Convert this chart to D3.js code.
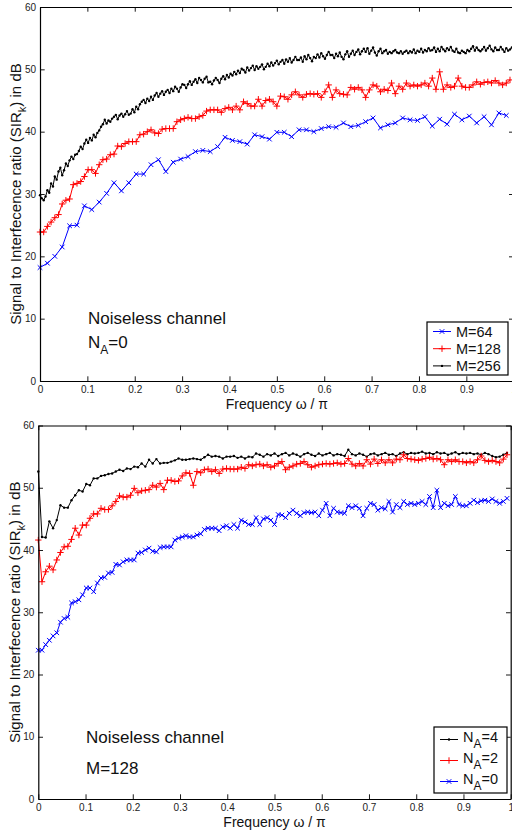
<!DOCTYPE html>
<html>
<head>
<meta charset="utf-8">
<script src="https://cdn.jsdelivr.net/npm/d3@7"></script>
<style>
  body { margin: 0; background: #fff; }
  text { font-family: "Liberation Sans", Arial, sans-serif; }
</style>
</head>
<body>
<div id="chart-area"></div>
<script>
// tick labels
var freqTicks = [0, 0.1, 0.2, 0.3, 0.4, 0.5, 0.6, 0.7, 0.8, 0.9, 1];
var sirTicks = [0, 10, 20, 30, 40, 50, 60];

// top panel: N_A = 0, block size M
var sirM64 = [
  18.2, 18.9, 20.0, 21.5, 24.9, 25.0, 28.1, 27.5, 28.7, 30.1, 31.8, 30.5, 31.8, 33.2, 33.2, 34.7,
  35.5, 33.6, 35.1, 35.6, 36.0, 36.8, 37.0, 36.8, 37.6, 39.1, 38.6, 38.4, 38.0, 39.5, 39.2, 38.8,
  39.9, 39.9, 39.2, 40.3, 40.3, 40.0, 40.5, 40.8, 40.7, 41.4, 40.8, 41.0, 41.6, 42.2, 40.6, 41.1,
  41.4, 42.2, 41.9, 41.8, 42.4, 40.9, 42.0, 41.2, 42.8, 41.9, 42.5, 41.4, 42.4, 41.1, 43.0, 42.6
];

// M = 128, N_A = 0 (same curve appears in both panels)
var sirM128 = [
  23.9, 23.9, 24.8, 25.5, 26.2, 26.7, 28.4, 29.0, 29.2, 31.5, 31.7, 32.0, 32.8, 33.9, 33.9, 33.3,
  34.7, 35.5, 35.6, 36.3, 36.4, 37.7, 37.6, 38.1, 38.4, 38.4, 38.4, 39.5, 39.6, 40.0, 40.3, 39.8,
  39.7, 40.4, 40.5, 40.5, 40.5, 41.6, 41.9, 42.1, 42.3, 42.1, 42.1, 42.4, 42.6, 43.3, 43.5, 43.5,
  43.5, 43.1, 43.7, 43.9, 43.5, 44.1, 43.5, 44.8, 44.5, 44.1, 44.1, 45.2, 44.1, 45.0, 45.2, 44.8,
  44.1, 45.7, 45.6, 45.2, 45.9, 46.4, 45.9, 45.5, 46.0, 46.1, 46.0, 46.1, 45.5, 46.4, 47.5, 45.5,
  46.7, 46.1, 46.0, 45.9, 47.1, 46.8, 47.1, 46.7, 45.5, 46.7, 47.5, 47.3, 46.4, 46.8, 46.6, 47.8,
  46.1, 47.3, 46.8, 47.8, 47.3, 47.5, 47.3, 47.5, 47.8, 47.3, 48.6, 46.8, 49.6, 46.8, 47.5, 47.1,
  47.3, 48.6, 47.3, 47.1, 47.1, 47.5, 48.0, 47.6, 47.9, 48.0, 47.8, 48.2, 47.8, 47.5, 47.8, 48.3
];

var sirM256 = [
  29.8, 29.3, 29.0, 29.6, 30.6, 30.2, 31.7, 31.2, 32.8, 32.3, 33.6, 34.2, 33.0, 33.8, 34.9, 34.5,
  35.4, 36.0, 35.6, 36.3, 36.4, 36.9, 37.6, 37.2, 38.1, 38.7, 38.2, 39.0, 38.6, 39.5, 39.1, 39.8,
  40.2, 40.8, 41.2, 41.9, 41.3, 41.8, 41.6, 42.1, 42.4, 42.7, 42.0, 42.6, 42.9, 42.4, 42.8, 43.3,
  42.7, 42.9, 43.6, 43.1, 44.0, 43.6, 44.4, 44.8, 45.1, 44.6, 45.3, 44.9, 45.6, 45.1, 45.8, 46.2,
  45.6, 46.1, 46.5, 45.9, 46.4, 46.7, 46.2, 46.9, 46.5, 47.2, 46.9, 46.4, 47.1, 47.6, 47.5, 47.0,
  47.6, 48.1, 47.5, 48.0, 48.4, 47.8, 48.6, 48.3, 47.9, 48.5, 48.8, 47.9, 48.0, 47.6, 48.2, 48.6,
  48.3, 47.8, 48.5, 48.9, 48.4, 49.1, 48.7, 49.3, 49.0, 49.6, 49.2, 49.8, 49.4, 50.1, 49.9, 49.5,
  50.3, 49.8, 50.2, 50.6, 49.9, 50.5, 50.1, 50.4, 50.8, 50.0, 50.4, 50.9, 50.5, 51.1, 50.6, 51.0,
  51.4, 50.8, 51.2, 51.5, 50.9, 51.6, 51.2, 51.8, 51.1, 51.5, 52.0, 51.5, 51.5, 51.9, 51.2, 52.1,
  51.6, 52.3, 51.8, 51.3, 52.0, 51.8, 52.4, 51.9, 52.6, 52.1, 51.7, 52.3, 52.8, 52.3, 52.3, 51.8,
  52.5, 52.1, 52.7, 52.0, 51.6, 52.4, 52.9, 52.0, 52.5, 53.0, 52.3, 52.8, 53.2, 52.4, 52.9, 53.3,
  52.8, 53.4, 52.5, 53.0, 53.5, 52.7, 52.2, 52.9, 53.3, 52.6, 52.9, 53.1, 52.5, 52.8, 52.6, 52.9,
  53.1, 52.7, 52.6, 52.9, 52.5, 52.8, 53.0, 52.6, 52.9, 52.7, 53.2, 52.6, 53.0, 52.8, 53.3, 52.7,
  53.1, 52.9, 53.4, 53.0, 53.1, 53.5, 52.8, 53.3, 52.9, 53.6, 53.2, 52.9, 53.4, 53.1, 53.6, 53.0,
  52.8, 53.3, 52.7, 52.6, 53.0, 52.8, 52.6, 53.1, 52.9, 53.3, 53.7, 53.0, 53.5, 53.1, 52.9, 53.2,
  53.6, 53.0, 53.4, 53.8, 53.2, 52.9, 53.5, 53.1, 53.1, 53.6, 53.2, 52.8, 53.4, 53.0, 53.2, 53.5
];

// bottom panel: M = 128, number of interferers N_A
var sirNA4 = [
  52.6, 42.1, 42.0, 44.6, 43.5, 44.8, 47.2, 46.8, 46.8, 48.0, 48.8, 49.6, 49.4, 50.6, 50.4, 51.5,
  51.5, 51.9, 52.0, 52.2, 52.3, 52.6, 52.9, 52.7, 53.1, 53.0, 53.4, 53.3, 53.9, 53.4, 54.5, 53.9,
  54.6, 53.9, 54.0, 54.0, 54.2, 54.4, 54.7, 54.5, 54.5, 54.6, 54.7, 54.6, 54.5, 54.9, 55.3, 55.0,
  55.1, 55.0, 54.7, 55.0, 55.0, 55.1, 54.8, 55.0, 54.7, 55.0, 54.9, 55.5, 55.3, 55.0, 55.4, 55.2,
  55.5, 55.1, 55.4, 55.6, 55.2, 55.5, 55.3, 55.0, 55.4, 55.6, 55.3, 55.1, 55.5, 55.2, 55.4, 55.6,
  55.2, 55.4, 55.3, 55.1, 56.1, 55.4, 55.2, 55.5, 55.3, 55.0, 55.4, 55.5, 55.2, 55.4, 55.6, 55.3,
  55.4, 55.1, 55.5, 55.7, 55.4, 55.6, 55.5, 55.6, 55.8, 55.5, 55.6, 55.4, 55.7, 55.5, 55.6, 55.3,
  55.5, 55.7, 55.4, 55.6, 55.5, 55.6, 55.4, 55.5, 55.3, 55.6, 55.4, 55.1, 54.9, 55.0, 55.3, 55.6
];

var sirNA2 = [
  41.6, 34.9, 36.5, 37.4, 36.8, 38.4, 39.6, 40.5, 40.6, 41.7, 43.5, 42.4, 44.0, 44.0, 45.1, 45.8,
  45.8, 46.7, 46.5, 46.5, 47.1, 47.8, 48.7, 48.5, 48.5, 48.8, 49.9, 49.2, 49.5, 49.6, 49.7, 50.4,
  50.1, 50.7, 49.7, 51.2, 51.2, 51.0, 51.1, 51.9, 52.4, 52.3, 50.4, 52.6, 52.4, 52.9, 53.0, 52.6,
  52.9, 52.3, 53.0, 53.1, 53.0, 53.0, 53.0, 53.3, 53.1, 53.7, 53.5, 53.7, 53.8, 53.5, 53.7, 53.3,
  53.5, 53.9, 54.2, 52.9, 53.3, 53.5, 53.8, 53.9, 54.2, 53.7, 53.3, 53.5, 53.7, 53.8, 53.9, 53.8,
  53.9, 54.0, 53.8, 53.9, 54.7, 53.8, 53.5, 53.9, 53.5, 54.5, 53.8, 54.6, 53.9, 54.5, 54.0, 54.5,
  54.0, 54.6, 54.5, 55.3, 54.7, 54.6, 54.5, 54.4, 54.6, 54.7, 54.9, 54.6, 54.7, 54.5, 53.7, 54.5,
  54.2, 54.5, 54.2, 54.2, 54.0, 54.2, 54.0, 54.5, 55.1, 54.4, 54.2, 54.4, 54.2, 54.0, 54.6, 55.3
];

var topLegend = ["M=64", "M=128", "M=256"];
var bottomLegend = ["4", "2", "0"];

var width = 512;
var height = 832;

var svg = d3.select("#chart-area").append("svg")
            .attr("width", width)
            .attr("height", height)
            .style("background", "#fff");

var markerPaths = {
  x: "M-2.3,-2.3L2.3,2.3M-2.3,2.3L2.3,-2.3",
  plus: "M-3.2,0H3.2M0,-3.2V3.2"
};

function drawMarker(g, type, color, px, py) {
  if (type == "dot") {
    g.append("circle")
      .attr("cx", px).attr("cy", py)
      .attr("r", 1.2)
      .attr("fill", color);
  } else {
    g.append("path")
      .attr("d", markerPaths[type])
      .attr("transform", "translate(" + px + "," + py + ")")
      .attr("fill", "none")
      .attr("stroke", color)
      .attr("stroke-width", 1);
  }
}

function drawSeries(g, x, y, values, color, type) {
  var n = values.length;
  var pts = values.map((v, i) => { return [i / n, v]; });
  var line = d3.line()
               .x((d) => { return x(d[0]); })
               .y((d) => { return y(d[1]); });
  g.append("path")
    .datum(pts)
    .attr("d", line)
    .attr("fill", "none")
    .attr("stroke", color)
    .attr("stroke-width", 1);
  pts.forEach((d) => { drawMarker(g, type, color, x(d[0]), y(d[1])); });
}

function drawPanel(p) {
  var g = svg.append("g");
  var x = d3.scaleLinear().domain([0, 1]).range([p.left, p.right]);
  var y = d3.scaleLinear().domain([0, 60]).range([p.bottom, p.top]);

  p.series.forEach((s) => { drawSeries(g, x, y, s.values, s.color, s.marker); });

  var tick = 4.7;
  var bottomAxis = d3.axisBottom(x).tickValues(freqTicks).tickSize(-tick).tickSizeOuter(0)
                     .tickPadding(5).tickFormat((d) => { return String(d); });
  var topAxis = d3.axisTop(x).tickValues(freqTicks).tickSize(-tick).tickSizeOuter(0).tickFormat("");
  var leftAxis = d3.axisLeft(y).tickValues(sirTicks).tickSize(-tick).tickSizeOuter(0).tickPadding(4);
  var rightAxis = d3.axisRight(y).tickValues(sirTicks).tickSize(-tick).tickSizeOuter(0).tickFormat("");

  var axes = [
    [bottomAxis, "translate(0," + p.bottom + ")"],
    [topAxis, "translate(0," + p.top + ")"],
    [leftAxis, "translate(" + p.left + ",0)"],
    [rightAxis, "translate(" + p.right + ",0)"]
  ];
  axes.forEach((a) => {
    var ag = g.append("g").attr("transform", a[1]).call(a[0]);
    ag.select(".domain").attr("stroke", "#000").attr("stroke-width", 1.2);
    ag.selectAll(".tick line").attr("stroke", "#000").attr("stroke-width", 0.9);
    ag.selectAll(".tick text")
      .attr("font-size", "10px")
      .attr("font-family", "Liberation Sans, Arial, sans-serif")
      .attr("fill", "#222");
  });

  // axis labels
  g.append("text")
    .attr("x", (p.left + p.right) / 2)
    .attr("y", p.bottom + 28)
    .attr("font-size", "14px")
    .attr("text-anchor", "middle")
    .attr("fill", "#111")
    .text("Frequency \u03c9 / \u03c0");

  var yLabel = g.append("text")
                .attr("transform", "translate(" + p.ylabelX + "," + ((p.top + p.bottom) / 2) + ") rotate(-90)")
                .attr("font-size", "15px")
                .attr("text-anchor", "middle")
                .attr("fill", "#111");
  yLabel.append("tspan").text("Signal to Interfecence ratio (SIR");
  yLabel.append("tspan").attr("dy", 5).attr("font-size", "11px").text("k");
  yLabel.append("tspan").attr("dy", -5).text(") in dB");

  // annotation
  g.append("text")
    .attr("x", p.noteX)
    .attr("y", p.noteY)
    .attr("font-size", "17px")
    .attr("fill", "#111")
    .text("Noiseless channel");
  var note2 = g.append("text")
               .attr("x", p.noteX)
               .attr("y", p.noteY2)
               .attr("font-size", "17px")
               .attr("fill", "#111");
  p.note2(note2);

  // legend
  var lg = g.append("g");
  lg.append("rect")
    .attr("x", p.legend.x).attr("y", p.legend.y)
    .attr("width", p.legend.w).attr("height", p.legend.h)
    .attr("fill", "#fff")
    .attr("stroke", "#000")
    .attr("stroke-width", 1.2);
  p.legend.items.forEach((it, i) => {
    var ly = p.legend.y + p.legend.first + i * p.legend.step;
    lg.append("line")
      .attr("x1", p.legend.x + 6).attr("x2", p.legend.x + 24)
      .attr("y1", ly).attr("y2", ly)
      .attr("stroke", it.color).attr("stroke-width", 1);
    drawMarker(lg, it.marker, it.color, p.legend.x + 15, ly);
    var t = lg.append("text")
              .attr("x", p.legend.x + 29)
              .attr("y", ly + p.legend.textDy)
              .attr("font-size", "14.5px")
              .attr("fill", "#111");
    it.label(t);
  });
}

drawPanel({
  left: 40, right: 513.7, top: 7, bottom: 381,
  ylabelX: 21,
  noteX: 88, noteY: 324, noteY2: 348,
  note2: (t) => {
    t.append("tspan").text("N");
    t.append("tspan").attr("dy", 6).attr("font-size", "12px").text("A");
    t.append("tspan").attr("dy", -6).text("=0");
  },
  series: [
    {values: sirM64, color: "#0000ff", marker: "x"},
    {values: sirM128, color: "#ff0000", marker: "plus"},
    {values: sirM256, color: "#000000", marker: "dot"}
  ],
  legend: {
    x: 427, y: 322, w: 81, h: 53, first: 9.5, step: 17.2, textDy: 5,
    items: [
      {color: "#0000ff", marker: "x", label: (t) => { t.text(topLegend[0]); }},
      {color: "#ff0000", marker: "plus", label: (t) => { t.text(topLegend[1]); }},
      {color: "#000000", marker: "dot", label: (t) => { t.text(topLegend[2]); }}
    ]
  }
});

function naLabel(v) {
  return (t) => {
    t.append("tspan").text("N");
    t.append("tspan").attr("dy", 6).attr("font-size", "12px").text("A");
    t.append("tspan").attr("dy", -6).text("=" + v);
  };
}

drawPanel({
  left: 38.3, right: 510.7, top: 425.5, bottom: 799,
  ylabelX: 20,
  noteX: 86, noteY: 743, noteY2: 774,
  note2: (t) => { t.text("M=128"); },
  series: [
    {values: sirNA4, color: "#000000", marker: "dot"},
    {values: sirNA2, color: "#ff0000", marker: "plus"},
    {values: sirM128, color: "#0000ff", marker: "x"}
  ],
  legend: {
    x: 434, y: 727, w: 73, h: 66, first: 12.5, step: 21, textDy: 2,
    items: [
      {color: "#000000", marker: "dot", label: naLabel(bottomLegend[0])},
      {color: "#ff0000", marker: "plus", label: naLabel(bottomLegend[1])},
      {color: "#0000ff", marker: "x", label: naLabel(bottomLegend[2])}
    ]
  }
});
</script>
</body>
</html>
